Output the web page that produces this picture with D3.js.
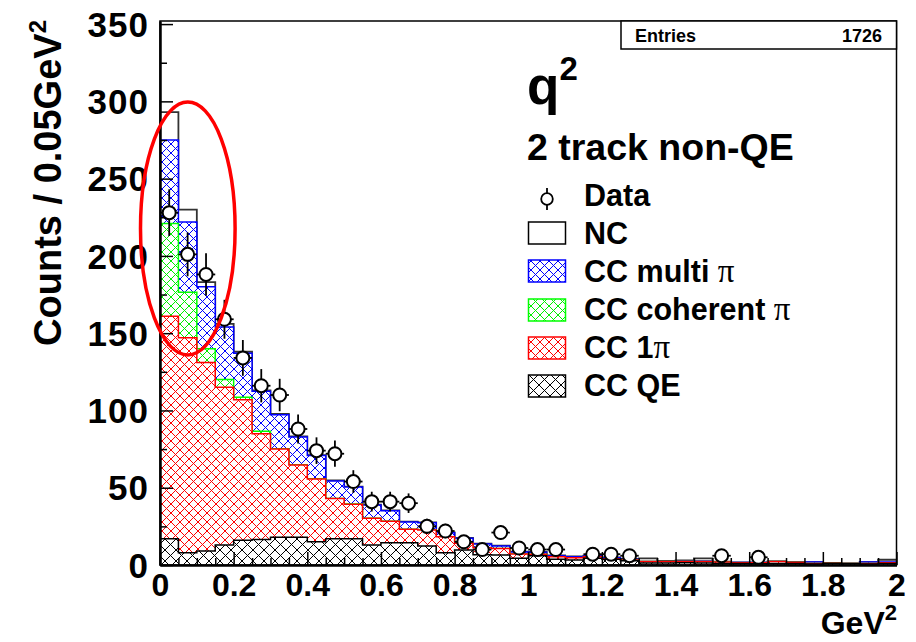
<!DOCTYPE html>
<html><head><meta charset="utf-8">
<script src="https://cdn.jsdelivr.net/npm/d3@7"></script>
<style>
body{margin:0;background:#fff;}
svg{display:block;}
text{font-family:"Liberation Sans",Arial,Helvetica,sans-serif;font-weight:bold;fill:#000;}
</style>
</head><body>
<svg id="c" width="916" height="642"></svg>
<script>
// ---------------- data ----------------
const binLow = d3.range(40).map(i => i * 0.05);   // bin low edges, GeV^2 (width 0.05)
const ccQE    = [17, 8, 9, 13, 16, 16.5, 18, 18, 15, 17, 17, 13, 14.4, 14.4, 12.3, 8, 9.7, 6.7, 6.5, 4.3, 6, 3.7, 3.2, 4.3, 3.7, 2.8, 1.3, 1.3, 1.5, 1.3, 1.0, 1.0, 0.8, 1.0, 1.0, 0.7, 1.0, 0.8, 0.7, 1.0];
const cc1pi   = [144, 139, 122, 102, 91, 68.5, 57, 46.7, 40.7, 26, 22.3, 17.2, 13.9, 8.7, 10.3, 10.3, 4.3, 4.5, 4.1, 2.8, 0.9, 1.7, 1.5, 1.1, 0.4, 0.4, 0.9, 0.9, 0.8, 0.9, 1.0, 0.5, 0.7, 1.2, 0.8, 0.3, 0.1, 0.1, 0.3, 0.5];
const ccCoh   = [60, 29.5, 9, 5, 1.5, 1.5, 0.2, 0.1, 0.1, 0.1, 0.1, 0.1, 0, 0, 0, 0, 0, 0, 0, 0, 0, 0, 0, 0, 0, 0, 0, 0, 0, 0, 0, 0, 0, 0, 0, 0, 0, 0, 0, 0];
const ccMulti = [54, 45.5, 40, 34, 28.5, 26, 22, 18, 15, 11.3, 11, 8.6, 6.8, 4.7, 4.8, 2.6, 3.3, 2.4, 1.7, 1.3, 1.3, 0.6, 0.7, 0.4, 0.6, 0.5, 0.1, 0.1, 0.2, 0.4, 0.1, 0.1, 0.1, 0.1, 0.1, 0.9, 0.1, 0.1, 0.9, 0.4];
const ncVals  = [18, 8, 3, 2, 1, 0.5, 0.5, 0.4, 0.3, 0.4, 0.3, 0.2, 0.2, 0.2, 0.2, 0.2, 0.2, 0.2, 0.2, 0.2, 0.2, 0.2, 0.2, 0.2, 0.2, 0.2, 2.0, 0.3, 0.5, 1.7, 0.1, 0.1, 0.1, 0.1, 0, 0, 0.1, 0.1, 0, 1.5];
const dataCounts = [228, 201, 188, 159, 134, 116, 110, 88, 74, 72, 54, 41, 41, 40, 25, 22, 15, 10, 21, 11, 10, 10, 0, 7, 7, 6, 0, 0, 0, 0, 6, 0, 5, 0, 0, 0, 0, 0, 0, 0];
const yMajorTicks = [0, 50, 100, 150, 200, 250, 300, 350];
const xMajorTicks = [0, 0.2, 0.4, 0.6, 0.8, 1, 1.2, 1.4, 1.6, 1.8, 2];
const legendLabels = ["Data", "NC", "CC multi ", "CC coherent ", "CC 1", "CC QE"];
const entries = 1726;

// ---------------- setup ----------------
const svg = d3.select('#c');
const x = d3.scaleLinear().domain([0, 2]).range([160, 896.5]);
const y = d3.scaleLinear().domain([0, 352]).range([565, 21]);
const binW = 0.05;

const defs = svg.append('defs');
function hatch(id, color, s) {
  const p = defs.append('pattern').attr('id', id).attr('patternUnits', 'userSpaceOnUse')
    .attr('width', s).attr('height', s);
  p.append('path').attr('d', `M-1,-1L${s+1},${s+1}M-1,${s+1}L${s+1},-1`)
    .attr('stroke', color).attr('stroke-width', 1).attr('fill', 'none');
}
const keys = ['qe', 'pi1', 'coh', 'multi', 'nc'];
const colors = {qe: '#000000', pi1: '#ff0000', coh: '#00ff00', multi: '#0000ff', nc: '#333333'};
hatch('h_qe', '#000', 11);
hatch('h_pi1', '#ff0000', 9);
hatch('h_coh', '#00ee00', 9);
hatch('h_multi', '#0000ff', 9);

const rows = binLow.map((b, i) => ({qe: ccQE[i], pi1: cc1pi[i], coh: ccCoh[i], multi: ccMulti[i], nc: ncVals[i]}));
const stacked = d3.stack().keys(keys)(rows);

const area = d3.area().x(d => x(d[0])).y0(y(0)).y1(d => y(d[1])).curve(d3.curveStepAfter);
const line = d3.line().x(d => x(d[0])).y(d => y(d[1])).curve(d3.curveStepAfter);

const gH = svg.append('g');
for (let k = keys.length - 1; k >= 0; k--) {
  const s = stacked[k];
  const key = keys[k];
  const pts = s.map((d, i) => [binLow[i], d[1]]);
  pts.push([2, s[s.length - 1][1]]);
  gH.append('path').attr('d', area(pts)).attr('fill', '#fff');
  if (key !== 'nc') gH.append('path').attr('d', area(pts)).attr('fill', `url(#h_${key})`);
  gH.append('path').attr('d', line(pts)).attr('fill', 'none')
    .attr('stroke', colors[key]).attr('stroke-width', key === 'nc' ? 1.8 : 1.5);
}

// ---------------- frame & axes ----------------
svg.append('rect').attr('x', x(0)).attr('y', y(352)).attr('width', x(2) - x(0)).attr('height', y(0) - y(352))
  .attr('fill', 'none').attr('stroke', '#000').attr('stroke-width', 1.5);

const tickFont = '"Liberation Sans",Arial,sans-serif';
const yAxis = svg.append('g').attr('transform', `translate(${x(0)},0)`)
  .call(d3.axisLeft(y).tickValues(yMajorTicks).tickSize(-13).tickSizeOuter(0).tickPadding(11).tickFormat(d3.format('d')));
svg.append('g').attr('transform', `translate(${x(0)},0)`)
  .call(d3.axisLeft(y).tickValues(d3.range(25, 351, 50)).tickSize(-7).tickSizeOuter(0).tickFormat(''));
const xAxis = svg.append('g').attr('transform', `translate(0,${y(0)})`)
  .call(d3.axisBottom(x).tickValues(xMajorTicks).tickSize(-13).tickSizeOuter(0).tickPadding(8).tickFormat(d => String(+d.toFixed(1))));
svg.append('g').attr('transform', `translate(0,${y(0)})`)
  .call(d3.axisBottom(x).tickValues(binLow.filter((b, i) => i % 4 !== 0)).tickSize(-7).tickSizeOuter(0).tickFormat(''));
svg.selectAll('.domain').attr('stroke-width', 2);
svg.selectAll('.tick line').attr('stroke-width', 1.5);
yAxis.selectAll('text').style('font-size', '35px').style('font-family', tickFont).style('font-weight', 'bold')
  .style('letter-spacing', '1px').attr('dy', '0.35em');
xAxis.selectAll('text').style('font-size', '32px').style('font-family', tickFont).style('font-weight', 'bold');

// axis titles
const yt = svg.append('text').attr('transform', 'translate(61,20) rotate(-90)').attr('text-anchor', 'end').style('font-size', '38px');
yt.append('tspan').text('Counts / 0.05GeV');
yt.append('tspan').attr('dy', -15).style('font-size', '24px').text('2');
const xt = svg.append('text').attr('x', 897).attr('y', 634).attr('text-anchor', 'end').style('font-size', '32px');
xt.append('tspan').text('GeV');
xt.append('tspan').attr('dy', -14).style('font-size', '22px').text('2');

// ---------------- data points ----------------
const gD = svg.append('g');
dataCounts.forEach((v, i) => {
  if (v <= 0) return;
  const cx = x(binLow[i] + binW / 2), cy = y(v), e = Math.sqrt(v);
  gD.append('line').attr('x1', cx).attr('x2', cx).attr('y1', y(v - e)).attr('y2', y(v + e)).attr('stroke', '#000').attr('stroke-width', 1.8);
  gD.append('line').attr('x1', x(binLow[i])).attr('x2', x(binLow[i] + binW)).attr('y1', cy).attr('y2', cy).attr('stroke', '#000').attr('stroke-width', 1.8);
  gD.append('circle').attr('cx', cx).attr('cy', cy).attr('r', 6.5).attr('fill', '#fff').attr('stroke', '#000').attr('stroke-width', 2);
});

// ---------------- stats box ----------------
svg.append('rect').attr('x', 621).attr('y', 21).attr('width', 275.5).attr('height', 28).attr('fill', '#fff').attr('stroke', '#000').attr('stroke-width', 1.5);
svg.append('text').attr('x', 635).attr('y', 42).style('font-size', '18px').text('Entries');
svg.append('text').attr('x', 882).attr('y', 42).attr('text-anchor', 'end').style('font-size', '18px').text(entries);

// ---------------- title & legend ----------------
const tq = svg.append('text').attr('x', 527).attr('y', 104).style('font-size', '53px');
tq.append('tspan').text('q');
tq.append('tspan').attr('dy', -24).style('font-size', '33px').text('2');
svg.append('text').attr('x', 527).attr('y', 160).style('font-size', '37.5px').text('2 track non-QE');

const legY = [199, 233, 271, 310, 348, 386];
const legBase = [206, 244, 282, 320, 358, 396];
const legKeys = [null, 'nc', 'multi', 'coh', 'pi1', 'qe'];
const gL = svg.append('g');
legKeys.forEach((k, i) => {
  const cy = legY[i];
  if (k === null) {
    gL.append('line').attr('x1', 547).attr('x2', 547).attr('y1', cy - 11).attr('y2', cy + 11).attr('stroke', '#000').attr('stroke-width', 1.8);
    gL.append('circle').attr('cx', 547).attr('cy', cy).attr('r', 5.8).attr('fill', '#fff').attr('stroke', '#000').attr('stroke-width', 1.8);
  } else {
    gL.append('rect').attr('x', 528.5).attr('y', cy - 11).attr('width', 37).attr('height', 22)
      .attr('fill', k === 'nc' ? '#fff' : `url(#h_${k})`).attr('stroke', k === 'nc' ? '#000' : colors[k]).attr('stroke-width', 1.5);
  }
  const t = gL.append('text').attr('x', 584).attr('y', legBase[i]).style('font-size', '30.5px');
  t.append('tspan').text(legendLabels[i]);
  if (i >= 2 && i <= 4) t.append('tspan').style('font-family', '"Liberation Serif","Times New Roman",serif').style('font-weight', 'normal').style('font-size', '33px').text('π');
});

// ---------------- highlight ellipse ----------------
svg.append('ellipse').attr('cx', 187.8).attr('cy', 228.5).attr('rx', 47.3).attr('ry', 126.5)
  .attr('fill', 'none').attr('stroke', '#ff0000').attr('stroke-width', 3.5);
</script>
</body></html>
